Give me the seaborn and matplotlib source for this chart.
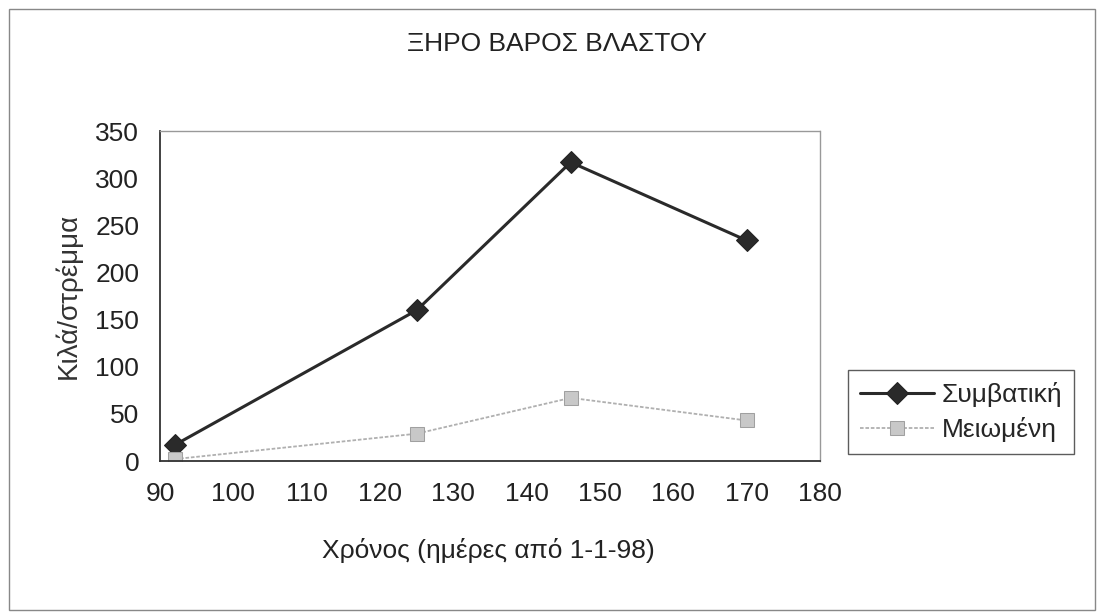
import matplotlib
matplotlib.use("Agg")
import matplotlib.pyplot as plt
import seaborn as sns
import pandas as pd
from matplotlib.patches import Rectangle

sns.set_theme(style="white")
plt.rcParams['font.family'] = ['Liberation Sans', 'DejaVu Sans']

days_conv = [92, 125, 146, 170]
vals_conv = [17, 160, 317, 234]
days_red = [92, 125, 146, 170]
vals_red = [2, 29, 67, 43]
series_names = ["Συμβατική", "Μειωμένη"]
xticks = [90, 100, 110, 120, 130, 140, 150, 160, 170, 180]
yticks = [0, 50, 100, 150, 200, 250, 300, 350]

df = pd.concat([
    pd.DataFrame({"x": days_conv, "y": vals_conv, "s": series_names[0]}),
    pd.DataFrame({"x": days_red, "y": vals_red, "s": series_names[1]}),
])

fig = plt.figure(figsize=(11, 6.16), dpi=100)
ax = fig.add_axes([0.1455, 0.2516, 0.6, 0.5355])

sns.lineplot(data=df[df.s == series_names[0]], x="x", y="y", ax=ax,
             color="#2a2a2a", lw=2.2, marker="D", markersize=11,
             markeredgecolor="#222222", label=series_names[0])
sns.lineplot(data=df[df.s == series_names[1]], x="x", y="y", ax=ax,
             color="#b0b0b0", lw=1.3, linestyle=(0, (2, 1)), marker="s",
             markersize=10, markerfacecolor="#c8c8c8", markeredgecolor="#a0a0a0",
             label=series_names[1])

ax.set_xlim(90, 180)
ax.set_ylim(0, 350)
ax.set_xticks(xticks)
ax.set_yticks(yticks)
ax.tick_params(axis="both", labelsize=19, colors="#222222", direction="out",
               length=6, width=1)
ax.tick_params(axis="x", pad=9)
ax.tick_params(axis="y", pad=9)
for side in ["left", "bottom"]:
    ax.spines[side].set_color("#333333")
    ax.spines[side].set_linewidth(1.3)
for side in ["top", "right"]:
    ax.spines[side].set_color("#999999")
    ax.spines[side].set_linewidth(1.0)
    ax.spines[side].set_linestyle((0, (3, 1)))

ax.set_xlabel("Χρόνος (ημέρες από 1-1-98)", fontsize=19, color="#222222", va="center")
ax.xaxis.set_label_coords(0.497, -0.27)
ax.set_ylabel("Κιλά/στρέμμα", fontsize=20, color="#333333", va="center")
ax.yaxis.set_label_coords(-0.139, 0.5)
fig.text(0.506, 0.928, "ΞΗΡΟ ΒΑΡΟΣ ΒΛΑΣΤΟΥ", ha="center", va="center",
         fontsize=19, color="#222222")

leg = ax.legend(loc="upper left", bbox_to_anchor=(1.042, 0.276), fontsize=19,
                frameon=True, fancybox=False, handlelength=2.8,
                borderpad=0.45, labelspacing=0.4, handletextpad=0.3,
                borderaxespad=0)
leg.get_frame().set_edgecolor("#333333")
leg.get_frame().set_linewidth(1.0)

fig.patches.append(Rectangle((0.008, 0.01), 0.987, 0.975, transform=fig.transFigure,
                             fill=False, edgecolor="#888888", lw=1.0))

fig.savefig("out.png", dpi=100)
